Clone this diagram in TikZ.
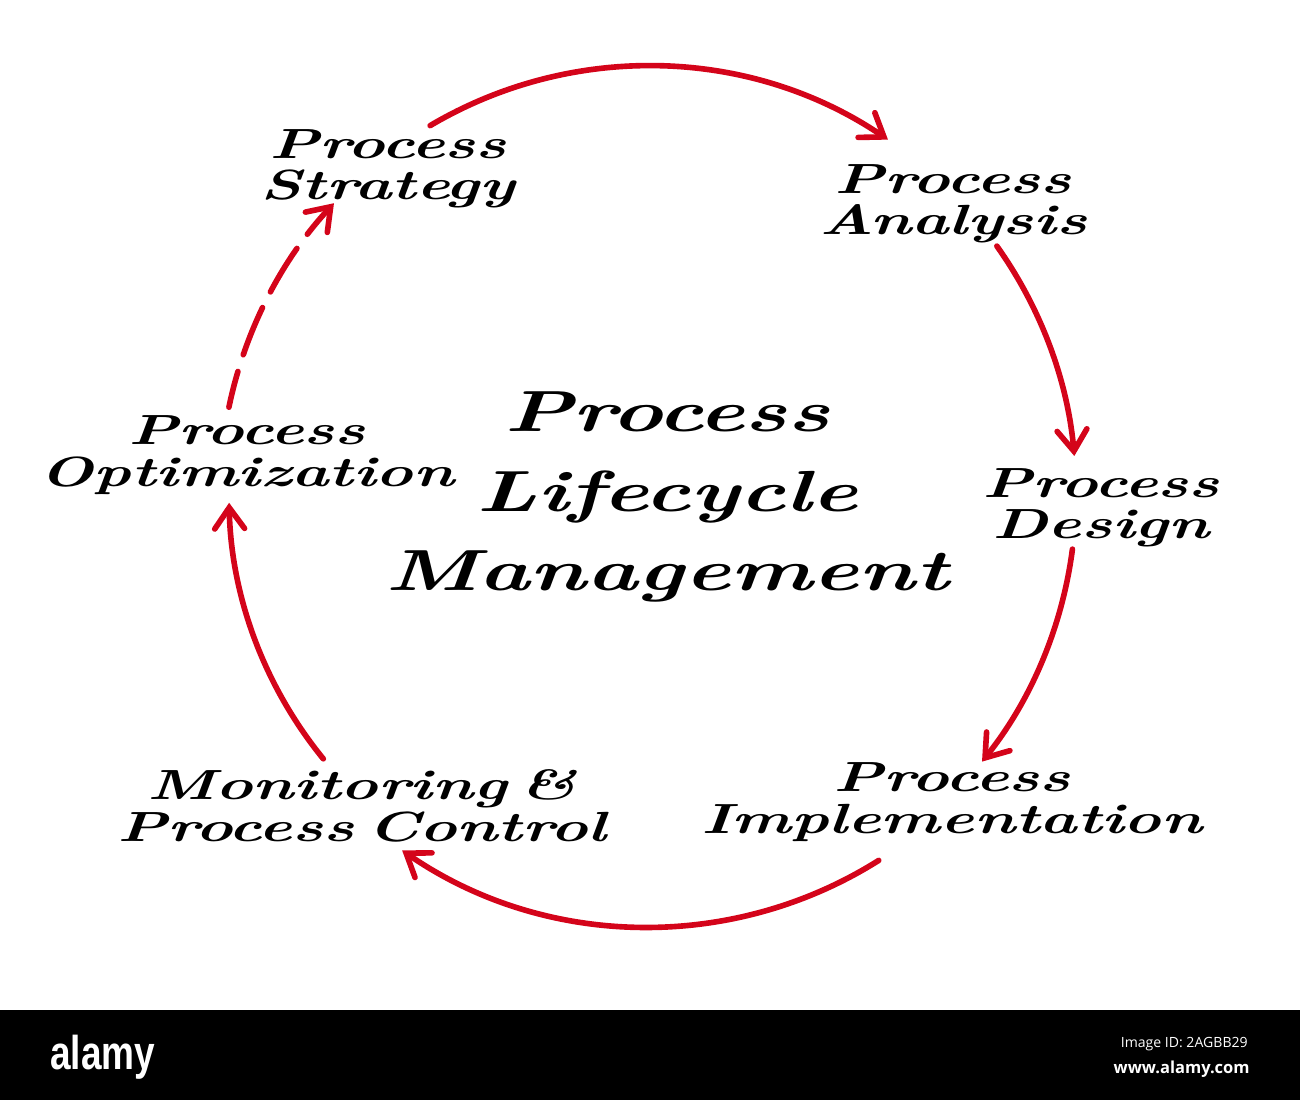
\documentclass[tikz,border=0pt]{standalone}
\usepackage{fontspec}
\usetikzlibrary{arrows.meta}
\newfontfamily\scr{lmroman10}[Extension=.otf, UprightFont=*-bolditalic, FakeStretch=1.5, WordSpace=0.5]
\newfontfamily\alamyfont{Liberation Sans}[FakeStretch=0.78]
\newfontfamily\infofont{Open Sans}
\definecolor{arrred}{RGB}{212,4,26}
\tikzset{
  lbl/.style={align=center, inner sep=0pt, font=\scr\fontsize{24}{23.6}\selectfont},
  title/.style={align=center, inner sep=0pt, font=\scr\fontsize{33}{45.5}\selectfont},
  arr/.style={draw=arrred, line width=3.2pt, line cap=round,
     -{Straight Barb[length=12pt,width=17pt,line cap=round]}},
  dsh/.style={arr, dash pattern=on 29pt off 10pt, dash phase=8pt},
  wm/.style={text=white, inner sep=0pt}
}
\begin{document}
\begin{tikzpicture}[x=0.02cm,y=-0.02cm]
\useasboundingbox (0,0) rectangle (1300,1100);
\fill[white] (0,0) rectangle (1300,1100);
% labels
\node[title] (plm) at (667,497) {Process\\Lifecycle\\Management};
\node[lbl] (strat) at (388,169) {Process\\Strategy};
\node[lbl] (anal) at (953,204) {Process\\Analysis};
\node[lbl] (des) at (1101,508) {Process\\Design};
\node[lbl] (impl) at (952,802) {Process\\Implementation};
\node[lbl] (mon) at (362,806) {Monitoring \&\\Process Control};
\node[lbl] (opt) at (247,455) {Process\\Optimization};
% connectors
\coordinate (O) at (648,494);
\path (O) ++(-120.6:428) coordinate (a1s);
\path (O) ++(-35.4:428) coordinate (a2s);
\path (O) ++(7.4:428) coordinate (a3s);
\path (O) ++(57.8:433) coordinate (a4s);
\path (O) ++(140.8:419) coordinate (a5s);
\path (O) ++(191.7:428) coordinate (a6s);
\draw[arr] (a1s) arc[start angle=-120.6, end angle=-55.9, radius=428];
\draw[arr] (a2s) arc[start angle=-35.4, end angle=-5.1, radius=428];
\draw[arr] (a3s) arc[start angle=7.4, end angle=38.7, radius=428];
\draw[arr] (a4s) arc[start angle=57.8, end angle=124.6, radius=433];
\draw[arr] (a5s) arc[start angle=140.8, end angle=178.8, radius=419];
\draw[dsh] (a6s) arc[start angle=191.7, end angle=222.8, radius=428];
% watermark bar
\fill[black] (0,1010) rectangle (1300,1100);
\node[wm, anchor=base west, font=\alamyfont\bfseries\fontsize{27}{27}\selectfont] (alamy) at (50,1069) {alamy};
\node[wm, anchor=base east, font=\infofont\fontsize{8}{8}\selectfont] (imgid) at (1248,1047) {Image ID: 2AGBB29};
\node[wm, anchor=base east, font=\infofont\bfseries\fontsize{9.4}{9.4}\selectfont] (www) at (1250,1073) {www.alamy.com};
\end{tikzpicture}
\end{document}
